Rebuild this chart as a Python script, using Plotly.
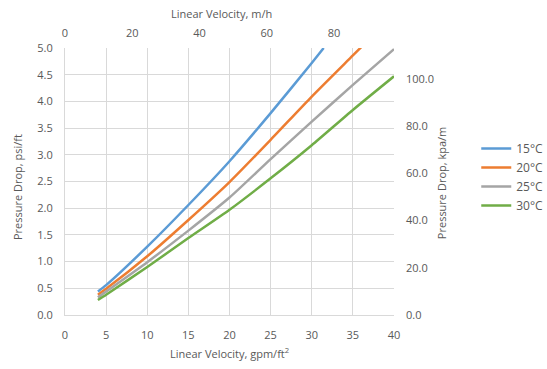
import plotly.graph_objects as go

# Linear velocity, gpm/ft2
vel_15 = [4, 5, 10, 15, 20, 25, 30, 31.45]
dp_15 = [0.44, 0.56, 1.28, 2.06, 2.88, 3.78, 4.72, 5.0]
vel_20 = [4, 5, 10, 15, 20, 25, 30, 35, 36.1]
dp_20 = [0.38, 0.49, 1.10, 1.78, 2.49, 3.28, 4.09, 4.86, 5.03]
vel_25 = [4, 5, 10, 15, 20, 25, 30, 35, 40]
dp_25 = [0.33, 0.44, 0.99, 1.58, 2.20, 2.92, 3.62, 4.31, 4.98]
vel_30 = [4, 5, 10, 15, 20, 25, 30, 35, 40]
dp_30 = [0.28, 0.38, 0.90, 1.44, 1.97, 2.56, 3.18, 3.84, 4.47]

series_names = ["15°C", "20°C", "25°C", "30°C"]
series_colors = ["#5B9BD5", "#ED7D31", "#A5A5A5", "#70AD47"]

GPM_TO_MH = 2.445
PSI_TO_KPA = 22.62

FONT = "Open Sans"
TXT = "#595959"
GRID = "#d9d9d9"

fig = go.Figure()
for xs, ys, name, col in zip([vel_15, vel_20, vel_25, vel_30],
                             [dp_15, dp_20, dp_25, dp_30],
                             series_names, series_colors):
    fig.add_trace(go.Scatter(x=xs, y=ys, mode="lines", name=name,
                             line=dict(color=col, width=2.5, shape="spline", smoothing=0.6)))

# invisible traces to activate secondary axes
fig.add_trace(go.Scatter(x=[0, 40 * GPM_TO_MH], y=[0, 5], xaxis="x2", yaxis="y",
                         mode="lines", line=dict(width=0), showlegend=False, hoverinfo="skip"))
fig.add_trace(go.Scatter(x=[0, 40], y=[0, 5 * PSI_TO_KPA], xaxis="x", yaxis="y2",
                         mode="lines", line=dict(width=0), showlegend=False, hoverinfo="skip"))

tickfont = dict(family=FONT, size=11, color=TXT)
titlefont = dict(family=FONT, size=11, color=TXT)

fig.update_layout(
    width=547, height=369,
    margin=dict(l=65, r=153, t=48, b=54, autoexpand=False),
    paper_bgcolor="white", plot_bgcolor="white",
    font=dict(family=FONT, size=11, color=TXT),
    xaxis=dict(range=[0, 40], dtick=5, showgrid=True, gridcolor=GRID, gridwidth=1,
               zeroline=False, showline=True, linecolor=GRID, automargin=False,
               tickfont=tickfont, ticks="", ticklabelstandoff=10),
    xaxis2=dict(range=[0, 40 * GPM_TO_MH], dtick=20, overlaying="x", side="top",
                showgrid=False, zeroline=False, showline=False, tickfont=tickfont,
                automargin=False, ticks="", ticklabelstandoff=8),
    yaxis=dict(range=[0, 5], dtick=0.5, tickformat=".1f", showgrid=True, gridcolor=GRID,
               zeroline=False, showline=True, linecolor=GRID, tickfont=tickfont,
               automargin=False, ticks="", ticklabelstandoff=9),
    yaxis2=dict(range=[0, 5 * PSI_TO_KPA], dtick=20, tickformat=".1f", overlaying="y",
                side="right", showgrid=False, zeroline=False, showline=False,
                tickfont=tickfont, automargin=False, ticks="", ticklabelstandoff=11),
    legend=dict(x=1.25, y=0.678, xanchor="left", yanchor="top",
                font=dict(family=FONT, size=12, color=TXT),
                itemwidth=30, tracegroupgap=0, bgcolor="rgba(0,0,0,0)"),
    showlegend=True,
    annotations=[
        dict(text="Linear Velocity, gpm/ft<sup>2</sup>", xref="paper", yref="paper",
             x=0.5, y=-0.142, showarrow=False, font=titlefont, xanchor="center", yanchor="middle"),
        dict(text="Linear Velocity, m/h", xref="paper", yref="paper",
             x=0.477, y=1.131, showarrow=False, font=titlefont, xanchor="center", yanchor="middle"),
        dict(text="Pressure Drop, psi/ft", xref="paper", yref="paper", textangle=-90,
             x=-0.146, y=0.479, showarrow=False, font=titlefont, xanchor="center", yanchor="middle"),
        dict(text="Pressure Drop, kpa/m", xref="paper", yref="paper", textangle=-90,
             x=1.143, y=0.494, showarrow=False, font=titlefont, xanchor="center", yanchor="middle"),
    ],
)

fig.write_html("out.html", config={"responsive": False, "displayModeBar": False},
               post_script="document.body.style.margin='0px';document.body.style.overflow='hidden';")
